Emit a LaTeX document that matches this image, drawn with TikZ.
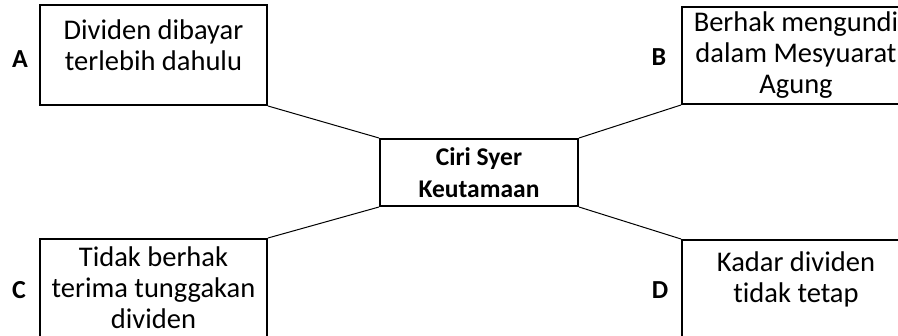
\documentclass[tikz,border=0pt]{standalone}
\usepackage{fontspec}
\setmainfont[Ligatures=NoCommon]{Carlito}
\usetikzlibrary{positioning}
\tikzset{
  box/.style={draw, line width=2pt, minimum width=227pt, minimum height=100pt, inner sep=0pt},
  boxtext/.style={align=center, font=\fontsize{28.5}{31}\selectfont},
  letter/.style={font=\fontsize{26}{30}\selectfont\bfseries},
  link/.style={line width=1pt}
}
\begin{document}
\begin{tikzpicture}[x=1pt, y=-1pt]
  \useasboundingbox (0,0) rectangle (898,336);
  % centre box
  \node[box, minimum width=198pt, minimum height=67pt, align=center,
        font=\fontsize{25.5}{32}\selectfont\bfseries] (ciri) at (479,172.5) {Ciri Syer\\Keutamaan};

  % the four boxes
  \node[box] (A) at (153.5,55) {};
  \node[box, minimum height=97pt] (B) at (795.5,55.5) {};
  \node[box] (C) at (153.5,289) {};
  \node[box] (D) at (795.5,290) {};

  \node[boxtext] (tA) at (153.5,45) {Dividen dibayar\\terlebih dahulu};
  \node[boxtext] (tB) at (796,55) {Berhak mengundi\\dalam Mesyuarat\\Agung};
  \node[boxtext] (tC) at (153.5,288) {Tidak berhak\\terima tunggakan\\dividen};
  \node[boxtext] (tD) at (796,279) {Kadar dividen\\tidak tetap};

  \node[letter] (lA) at (20,59) {A};
  \node[letter] (lB) at (659,57) {B};
  \node[letter] (lC) at (19,290) {C};
  \node[letter] (lD) at (660,290) {D};

  \draw[link] (A.south east) -- (ciri.north west);
  \draw[link] (B.south west) -- (ciri.north east);
  \draw[link] (C.north east) -- (ciri.south west);
  \draw[link] (D.north west) -- (ciri.south east);
\end{tikzpicture}
\end{document}
